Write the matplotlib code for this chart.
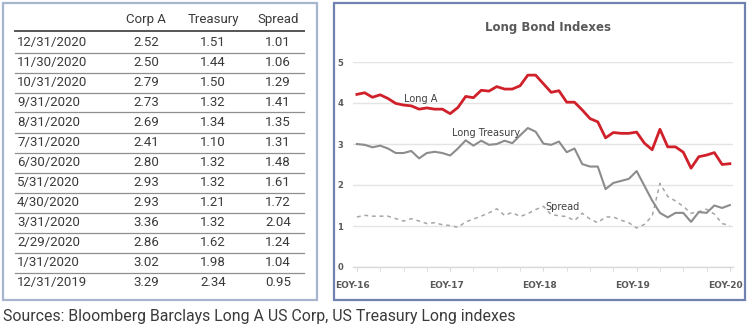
import matplotlib
matplotlib.use("Agg")
import matplotlib.pyplot as plt
from matplotlib.patches import Rectangle
from matplotlib.lines import Line2D
import matplotlib.transforms as mtransforms

# ---- table data (month-end yields, %) ----
table_dates = ["12/31/2020", "11/30/2020", "10/31/2020", "9/31/2020", "8/31/2020",
               "7/31/2020", "6/30/2020", "5/31/2020", "4/30/2020", "3/31/2020",
               "2/29/2020", "1/31/2020", "12/31/2019"]
table_corp = ["2.52", "2.50", "2.79", "2.73", "2.69", "2.41", "2.80", "2.93",
              "2.93", "3.36", "2.86", "3.02", "3.29"]
table_treasury = ["1.51", "1.44", "1.50", "1.32", "1.34", "1.10", "1.32", "1.32",
                  "1.21", "1.32", "1.62", "1.98", "2.34"]
table_spread = ["1.01", "1.06", "1.29", "1.41", "1.35", "1.31", "1.48", "1.61",
                "1.72", "2.04", "1.24", "1.04", "0.95"]
table_headers = ["Corp A", "Treasury", "Spread"]

# ---- monthly index yields, Dec 2016 .. Dec 2020 ----
long_a = [4.21, 4.25, 4.14, 4.20, 4.11, 3.99, 3.95, 3.93, 3.85, 3.88, 3.85, 3.85,
          3.74, 3.89, 4.16, 4.13, 4.31, 4.29, 4.40, 4.34, 4.34, 4.42, 4.68, 4.68,
          4.47, 4.26, 4.30, 4.02, 4.02, 3.83, 3.62, 3.54, 3.15, 3.28, 3.26, 3.26,
          3.29, 3.02, 2.86, 3.36, 2.93, 2.93, 2.80, 2.41, 2.69, 2.73, 2.79, 2.50, 2.52]
long_treasury = [3.00, 2.98, 2.92, 2.96, 2.89, 2.78, 2.78, 2.83, 2.65, 2.78, 2.81, 2.78,
                 2.72, 2.89, 3.09, 2.96, 3.08, 2.98, 3.00, 3.08, 3.02, 3.21, 3.39, 3.30,
                 3.01, 2.98, 3.06, 2.80, 2.89, 2.51, 2.45, 2.45, 1.90, 2.05, 2.10, 2.15,
                 2.34, 1.98, 1.62, 1.32, 1.21, 1.32, 1.32, 1.10, 1.34, 1.32, 1.50, 1.44, 1.51]
spread = [1.22, 1.26, 1.24, 1.24, 1.24, 1.18, 1.12, 1.18, 1.12, 1.06, 1.08, 1.03,
          1.01, 0.97, 1.10, 1.17, 1.24, 1.32, 1.42, 1.26, 1.33, 1.23, 1.30, 1.40,
          1.48, 1.28, 1.25, 1.23, 1.13, 1.31, 1.17, 1.08, 1.22, 1.22, 1.14, 1.08,
          0.95, 1.04, 1.24, 2.04, 1.72, 1.61, 1.48, 1.31, 1.35, 1.41, 1.29, 1.06, 1.01]
x_labels = ["EOY-16", "EOY-17", "EOY-18", "EOY-19", "EOY-20"]
x_label_pos = [0, 12, 24, 36, 48]

W, H = 750, 330
fig = plt.figure(figsize=(W / 100, H / 100), dpi=100)
fig.patch.set_facecolor("white")

def fx(px):
    return px / W

def fy(py):
    return 1 - py / H

TXT = "#3a3a3a"
TFONT = ["Roboto", "DejaVu Sans"]

# ---- left panel: table ----
fig.add_artist(Rectangle((fx(3), fy(300)), fx(314), (297) / H, transform=fig.transFigure,
                         fill=False, edgecolor="#a7b6cd", lw=1.6))

col_x = [146, 213, 278]
for cx, h in zip(col_x, table_headers):
    fig.text(fx(cx), fy(20), h, ha="center", va="center", fontsize=9.5,
             color=TXT, family=TFONT)
fig.add_artist(Line2D([fx(15), fx(304)], [fy(31), fy(31)], transform=fig.transFigure,
                      color="#555555", lw=1.4))

row_y0, row_dy = 42.5, 20.0
for i, d in enumerate(table_dates):
    y = row_y0 + i * row_dy
    fig.text(fx(17), fy(y), d, ha="left", va="center", fontsize=9.5, color=TXT, family=TFONT)
    for cx, v in zip(col_x, (table_corp[i], table_treasury[i], table_spread[i])):
        fig.text(fx(cx), fy(y), v, ha="center", va="center", fontsize=9.5,
                 color=TXT, family=TFONT)
    if i < len(table_dates) - 1:
        ly = y + row_dy / 2
        fig.add_artist(Line2D([fx(15), fx(304)], [fy(ly), fy(ly)], transform=fig.transFigure,
                              color="#8f8f8f", lw=0.9))

# ---- right panel: chart ----
fig.add_artist(Rectangle((fx(334), fy(300)), fx(411), (297) / H, transform=fig.transFigure,
                         fill=False, edgecolor="#6f82b0", lw=1.6))

ax = fig.add_axes([fx(353), fy(267), fx(380), (267 - 62) / H])
x = list(range(len(long_a)))
ax.plot(x, spread, color="#a6a6a6", lw=1.1, ls=(0, (2.5, 2.5)), zorder=2)
ax.plot(x, long_treasury, color="#8c8c8c", lw=1.5, zorder=3)
ax.plot(x, long_a, color="#d0202a", lw=2.0, zorder=4)

ax.set_xlim(-0.5, 48.4)
ax.set_ylim(0, 5)
ax.set_yticks([0, 1, 2, 3, 4, 5])
ax.yaxis.grid(True, color="#e4e4e4", lw=1.0)
ax.set_axisbelow(True)
for s in ("top", "right", "left"):
    ax.spines[s].set_visible(False)
ax.spines["bottom"].set_color("#d9d9d9")
ax.spines["bottom"].set_linewidth(1.0)
ax.tick_params(axis="y", length=0, pad=7, labelsize=6, labelcolor="#595959")
ax.set_xticks(x_label_pos)
ax.set_xticklabels(x_labels)
ax.set_xticks([i for i in range(0, 49, 3)], minor=True)
ax.tick_params(axis="x", which="both", length=3, color="#d9d9d9", labelsize=6.5,
               labelcolor="#595959", pad=7)
for lab in ax.get_yticklabels() + ax.get_xticklabels():
    lab.set_fontweight("bold")
off = mtransforms.ScaledTranslation(-4 / 100, 0, fig.dpi_scale_trans)
for lab in ax.get_xticklabels():
    lab.set_transform(lab.get_transform() + off)

fig.text(fx(548), fy(28), "Long Bond Indexes", ha="center", va="center", fontsize=8.5,
         fontweight="bold", color="#595959")
fig.text(fx(421), fy(99), "Long A", ha="center", va="center", fontsize=7, color="#404040")
fig.text(fx(486), fy(133), "Long Treasury", ha="center", va="center", fontsize=7, color="#404040")
fig.text(fx(563), fy(207), "Spread", ha="center", va="center", fontsize=7, color="#404040")

# ---- source note ----
fig.text(fx(3), fy(316), "Sources: Bloomberg Barclays Long A US Corp, US Treasury Long indexes",
         ha="left", va="center", fontsize=11.4, color=TXT, family=TFONT)

fig.savefig("out.png", dpi=100, facecolor="white")
